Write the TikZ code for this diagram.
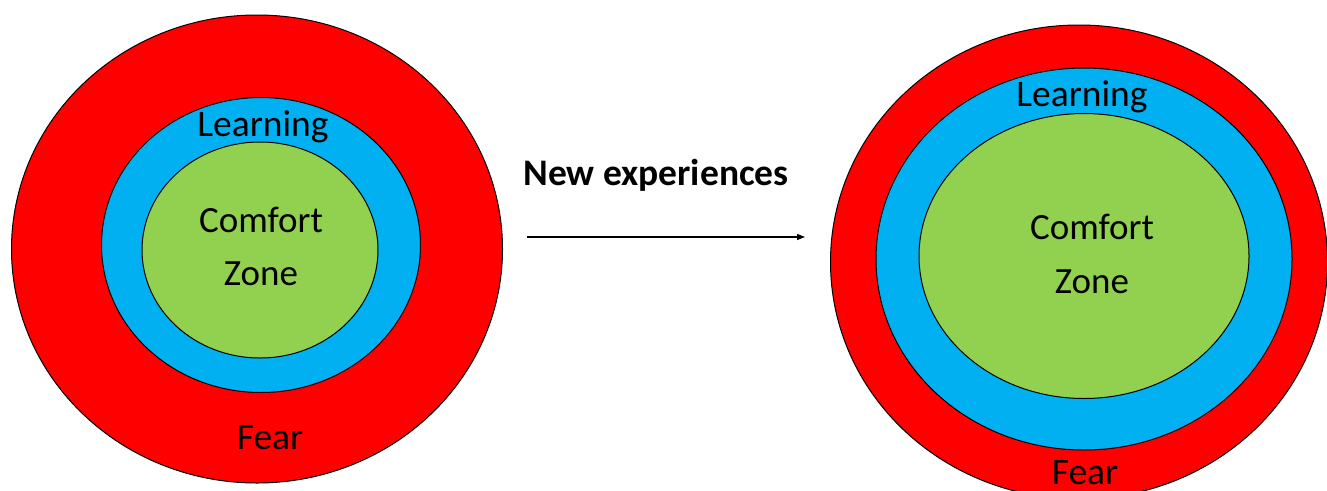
\documentclass[tikz,border=0pt]{standalone}
\usepackage{fontspec}
\setmainfont{Carlito}
\usetikzlibrary{arrows.meta,shapes.geometric}
\definecolor{fearred}{HTML}{FF0000}
\definecolor{learnblue}{HTML}{00B0F0}
\definecolor{comfortgreen}{HTML}{92D050}
\tikzset{
    every node/.style={color=black},
    every path/.style={color=black}
}
\begin{document}
\begin{tikzpicture}[
        x=1pt, y=-1pt,
        line width=1pt,
        >={Triangle[length=8pt,width=6pt]},
        zone/.style={ellipse, draw=black, inner sep=0pt, outer sep=0pt},
        zonetext/.style={font=\fontsize{37.5}{44}\selectfont, inner sep=0pt},
        bigtext/.style={font=\fontsize{37}{44}\selectfont, inner sep=0pt, align=center}
    ]
    \useasboundingbox (0,0) rectangle (1327,490);

    % Before: small comfort zone
    \node[zone, fill=fearred, minimum width=491pt, minimum height=468pt] (fear1) at (257,249) {};
    \node[zone, fill=learnblue, minimum width=319pt, minimum height=295pt] (learn1) at (261,245) {};
    \node[zone, fill=comfortgreen, minimum width=236pt, minimum height=216pt] (comfort1) at (260,250) {};
    \node[zonetext] (learnlabel1) at (263,127) {Learning};
    \node[bigtext] (comfortlabel1) at (261,220) {Comfort};
    \node[bigtext] (zonelabel1) at (261,274) {Zone};
    \node[zonetext] (fearlabel1) at (270,438) {Fear};

    % After: bigger comfort zone
    \node[zone, fill=fearred, minimum width=497pt, minimum height=474pt] (fear2) at (1079,262) {};
    \node[zone, fill=learnblue, minimum width=416pt, minimum height=382pt] (learn2) at (1084,259) {};
    \node[zone, fill=comfortgreen, minimum width=330pt, minimum height=285pt] (comfort2) at (1084,256) {};
    \node[zonetext] (learnlabel2) at (1082,97) {Learning};
    \node[bigtext] (comfortlabel2) at (1092,227) {Comfort};
    \node[bigtext] (zonelabel2) at (1092,282) {Zone};
    \node[zonetext] (fearlabel2) at (1085,473) {Fear};

    % Arrow
    \coordinate (arrowstart) at (527,237);
    \coordinate (arrowend) at (805,237);
    \node[font=\bfseries\fontsize{37.5}{44}\selectfont, inner sep=0pt] (newexp) at (656,175) {New experiences};
    \draw[->, line width=1.3pt] (arrowstart) -- (arrowend);

\end{tikzpicture}
\end{document}
